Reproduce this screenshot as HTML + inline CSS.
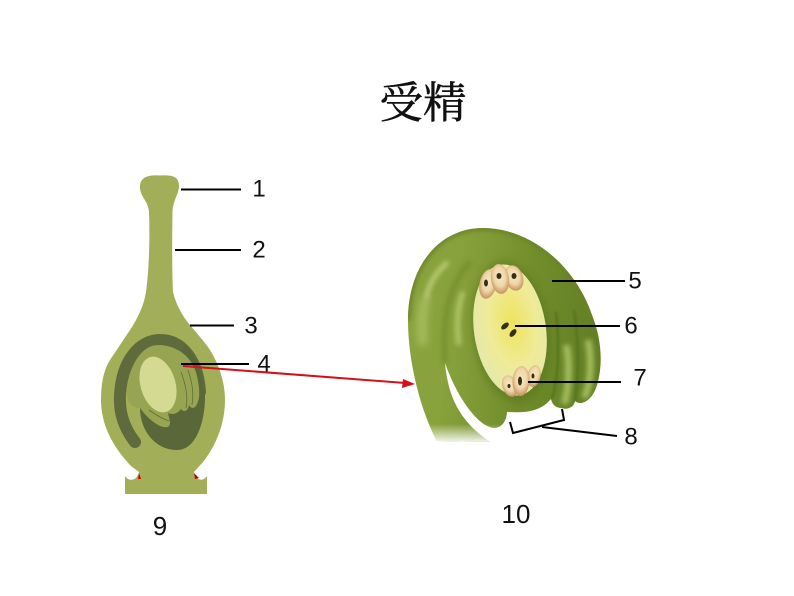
<!DOCTYPE html>
<html><head><meta charset="utf-8">
<style>html,body{margin:0;padding:0;background:#fff}svg{display:block}
text{font-family:"Liberation Sans","Noto Sans CJK SC",sans-serif;fill:#111;text-anchor:middle;dominant-baseline:central}
</style></head><body>
<svg width="794" height="596" viewBox="0 0 794 596" xmlns="http://www.w3.org/2000/svg">
<defs>
<linearGradient id="outer" x1="0" y1="0" x2="1" y2="0.15">
<stop offset="0" stop-color="#8aa340"/><stop offset=".3" stop-color="#88a23c"/><stop offset=".65" stop-color="#728e2c"/><stop offset="1" stop-color="#617f24"/>
</linearGradient>
<radialGradient id="sac" cx=".55" cy=".45" r=".6">
<stop offset="0" stop-color="#efe35c"/><stop offset=".55" stop-color="#efeb98"/><stop offset="1" stop-color="#e4e8ac"/>
</radialGradient>
<radialGradient id="cell" cx=".5" cy=".42" r=".55">
<stop offset="0" stop-color="#f6e8c4"/><stop offset=".6" stop-color="#f0d6a6"/><stop offset="1" stop-color="#c99a68"/>
</radialGradient>
<linearGradient id="fade" x1="0" y1="0" x2="0" y2="1">
<stop offset="0" stop-color="#fff" stop-opacity="0"/><stop offset="1" stop-color="#fff"/>
</linearGradient>
<filter id="b1" filterUnits="userSpaceOnUse" x="0" y="0" width="794" height="596"><feGaussianBlur stdDeviation="1"/></filter>
<filter id="b2" filterUnits="userSpaceOnUse" x="0" y="0" width="794" height="596"><feGaussianBlur stdDeviation="2.500"/></filter>
<filter id="b4" filterUnits="userSpaceOnUse" x="0" y="0" width="794" height="596"><feGaussianBlur stdDeviation="4"/></filter>
<clipPath id="ov"><path d="M437,441 C425,420 408,370 408,320 C408,265 440,228 483,228 C530,228 575,265 592,315 C602,340 603,365 597,385 C592,402 580,406 575,401 C574,408 566,410 562,408 C555,408 552,404 551,399 C540,412 525,413 507,412 C506,426 497,430 490,427 C478,424 458,400 445,363 C448,395 458,420 490,442 Z"/></clipPath>
</defs>

<text x="423" y="100" font-size="43.500" stroke="#111" stroke-width=".5" style="font-family:'Noto Serif CJK SC','Noto Sans CJK SC',sans-serif">受精</text>

<!-- pistil -->
<path d="M140,187 C140,177 148,175 159,175.500 C170,175 179,175 179,186 C179,194 173,200 172.500,212 C172,240 172,270 173,292 C176,305 183,317 190,325 L205,343 C217,358 225,380 225,400 C225,425 215,447 203,462 L194,472 C196,481 203,482 207,476 L207,494 L125,494 L125,476 C129,482 137,481 139,472 L131,466 C113,447 101,425 101,400 C101,380 105,368 110,360 L130,330 C138,318 144,305 146,292 C149,270 150,240 149,212 C148,200 140,197 140,187 Z" fill="#a2ae58"/>
<path d="M135,442 C124,428 119,412 120,395 C122,360 140,340 160,340 C182,340 198,360 200,392" fill="none" stroke="#5f6b3c" stroke-width="12" stroke-linecap="round"/>
<path d="M140,408 C140,430 155,450 177,450 C197,450 205,420 205,397 C204,375 195,355 185,345 L150,400 Z" fill="#5a6738"/>
<path d="M158,345 C178,345 193,358 197,376 C200,390 200,398 197,404 C195,409 191,409 189,405 C188,411 184,413 181,409 C177,414 173,415 168,413 C169,417 170,421 170,423 C170,428 165,428 160,426 C152,422 146,416 140,408 C133,408 127,402 127,395 C127,370 140,345 158,345 Z" fill="#97a552"/>
<ellipse cx="158" cy="384.500" rx="17.500" ry="28.500" transform="rotate(-16 158 384.500)" fill="#d5da93"/>
<path d="M181,372 C186,385 188,398 186,408 M188,370 C192,382 194,392 192,405" fill="none" stroke="#5f6d38" stroke-width=".8"/>
<path d="M149,410 C156,415 163,419 169,421" fill="none" stroke="#5f6d38" stroke-width=".8"/>
<path d="M139,473 L138,479 L141,479 Z M194,473 L195,479 L199,478 Z" fill="#c00"/>

<!-- ovule -->
<g clip-path="url(#ov)">
<rect x="400" y="220" width="210" height="230" fill="url(#outer)"/>
<path d="M408,320 C408,265 440,228 483,228 C530,228 575,265 592,315" fill="none" stroke="#6c8128" stroke-width="5" filter="url(#b2)"/>
<path d="M445,363 C442,320 448,285 470,262" fill="none" stroke="#6b8628" stroke-width="5" opacity=".6" filter="url(#b2)"/>
<path d="M426,300 C428,285 436,272 448,262" fill="none" stroke="#c6d67f" stroke-width="5" opacity=".8" filter="url(#b2)"/>
<path d="M423,345 C421,325 422,310 426,298" fill="none" stroke="#a8bf5e" stroke-width="9" filter="url(#b4)"/>
<path d="M459,345 C456,325 458,305 463,292" fill="none" stroke="#bed176" stroke-width="5" opacity=".8" filter="url(#b2)"/>
<path d="M588,340 C592,360 591,385 584,398" fill="none" stroke="#a3bb5c" stroke-width="7" filter="url(#b2)"/>
<path d="M566,345 C570,360 569,390 564,404" fill="none" stroke="#a3bb5c" stroke-width="7" filter="url(#b2)"/>
<path d="M556,312 C560,345 558,380 552,399 M574,310 C579,340 579,375 575,401" fill="none" stroke="#55701f" stroke-width="2" filter="url(#b1)"/>
<ellipse cx="511" cy="332" rx="39" ry="72" transform="rotate(-8 511 332)" fill="#56721e" opacity=".5" filter="url(#b4)"/>
<rect x="425" y="424" width="80" height="20" fill="url(#fade)"/>
</g>
<ellipse cx="510" cy="330" rx="36" ry="66" transform="rotate(-8 510 330)" fill="url(#sac)"/>
<ellipse cx="488" cy="284" rx="8.500" ry="15" transform="rotate(12 488 284)" fill="url(#cell)"/>
<ellipse cx="514" cy="278" rx="9" ry="13" transform="rotate(-18 514 278)" fill="url(#cell)"/>
<ellipse cx="500" cy="279" rx="9" ry="15" transform="rotate(-8 500 279)" fill="url(#cell)"/>
<ellipse cx="510" cy="386" rx="7.500" ry="11" transform="rotate(-20 510 386)" fill="url(#cell)"/>
<ellipse cx="534" cy="376" rx="6.500" ry="11" transform="rotate(12 534 376)" fill="url(#cell)"/>
<ellipse cx="521" cy="381" rx="8.500" ry="15" transform="rotate(3 521 381)" fill="url(#cell)"/>
<ellipse cx="486" cy="283" rx="2" ry="3.500" fill="#33301a"/><ellipse cx="499" cy="276" rx="2.500" ry="3" fill="#33301a"/><ellipse cx="514" cy="276" rx="2.500" ry="3" fill="#33301a"/>
<ellipse cx="509" cy="386" rx="1.500" ry="2" fill="#33301a"/><ellipse cx="520" cy="381" rx="2" ry="4.500" fill="#33301a"/><ellipse cx="533" cy="376" rx="1.500" ry="2.500" fill="#33301a"/>
<ellipse cx="505" cy="326" rx="2.500" ry="4.500" transform="rotate(50 505 326)" fill="#33301a"/><ellipse cx="513" cy="333" rx="2.500" ry="4.500" transform="rotate(40 513 333)" fill="#33301a"/>

<!-- leader lines -->
<g stroke="#000" stroke-width="2" fill="none">
<path d="M181,189.500H241M175,250H241M190,325.500H234M181,364H249"/>
<path d="M552,281H625M515,326H620M528,382H621"/>
<path d="M510,422L513,433L564,420L562,409M542,427L617,436"/>
</g>
<path d="M183,366L405,383" stroke="#d4101c" stroke-width="2" fill="none"/>
<path d="M415,384L403,379L402,388Z" fill="#d4101c"/>

<g font-size="24">
<text x="259" y="189">1</text><text x="259" y="250">2</text><text x="251" y="326">3</text><text x="264" y="364">4</text>
<text x="635" y="281">5</text><text x="631" y="326">6</text><text x="640" y="378">7</text><text x="631" y="437">8</text>
<text x="160" y="526" font-size="26">9</text><text x="516" y="514" font-size="26">10</text>
</g>
</svg>
</body></html>
